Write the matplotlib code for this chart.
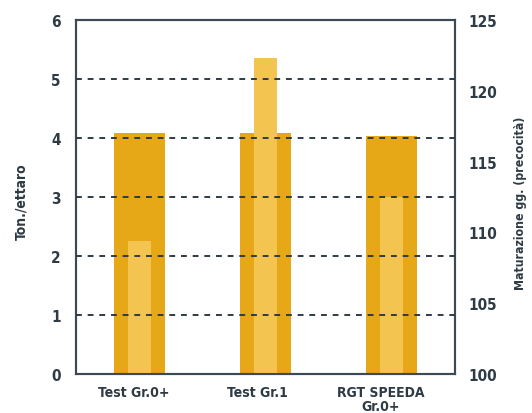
import numpy as np
import matplotlib
matplotlib.use('Agg')
import matplotlib.pyplot as plt
import matplotlib.transforms as mtransforms

categories = ['Test Gr.0+', 'Test Gr.1', 'RGT SPEEDA\nGr.0+']
resa = [4.08, 4.08, 4.03]          # Ton./ettaro (left axis)
maturazione = [109.4, 122.3, 112.5]  # gg. (right axis)

plt.rcParams['font.family'] = ['DejaVu Sans']
plt.rcParams['font.stretch'] = 'condensed'
plt.rcParams['font.weight'] = 'bold'
plt.rcParams['axes.labelweight'] = 'bold'
txt = '#2E3B45'
dark = '#E6A817'
light = '#F3C44F'

fig = plt.figure(figsize=(5.32, 4.14), dpi=100)
ax = fig.add_axes([76/532, 1-375/414, 379/532, 354/414])
ax2 = ax.twinx()

x = np.arange(len(categories))
ax.bar(x, resa, width=0.405, color=dark, zorder=1)
ax2.bar(x, np.array(maturazione) - 100, bottom=100, width=0.18, color=light, zorder=1)

ax.set_xlim(-0.5, 2.5)
ax.set_ylim(0, 6)
ax2.set_ylim(100, 125)

# dashed grid on top of all bars, following left ticks
tr = mtransforms.blended_transform_factory(ax2.transAxes, ax.transData)
for v in range(1, 6):
    ax2.plot([0, 1], [v, v], transform=tr, color='#2E3B45', lw=1.4,
             ls=(0, (3, 3)), zorder=5, clip_on=False)

for a in (ax, ax2):
    for s in a.spines.values():
        s.set_color('#3D4A55')
        s.set_linewidth(1.5)
    a.tick_params(length=0, colors=txt, labelsize=11)

ax.set_yticks(range(0, 7))
ax2.set_yticks(range(100, 126, 5))
ax.tick_params(axis='y', pad=11)
ax2.tick_params(axis='y', pad=10)
ax.set_xticks(x)
ax.set_xticklabels(categories, linespacing=1.0, va='top')
ax.tick_params(axis='x', pad=8, labelsize=10)
shifts = [-5, -8, -11]
for lab, dx in zip(ax.get_xticklabels(), shifts):
    lab.set_transform(lab.get_transform() +
                      mtransforms.ScaledTranslation(dx / 100, 0, fig.dpi_scale_trans))

ax.set_ylabel('Ton./ettaro', color=txt, fontsize=10)
ax2.set_ylabel('Maturazione gg. (precocità)', color=txt, fontsize=8.8)
ax.yaxis.set_label_coords(-0.145, 0.49)
ax2.yaxis.set_label_coords(1.172, 0.486)
ax.yaxis.label.set_va('center')
ax2.yaxis.label.set_va('center')

fig.savefig('out.png', dpi=100)
